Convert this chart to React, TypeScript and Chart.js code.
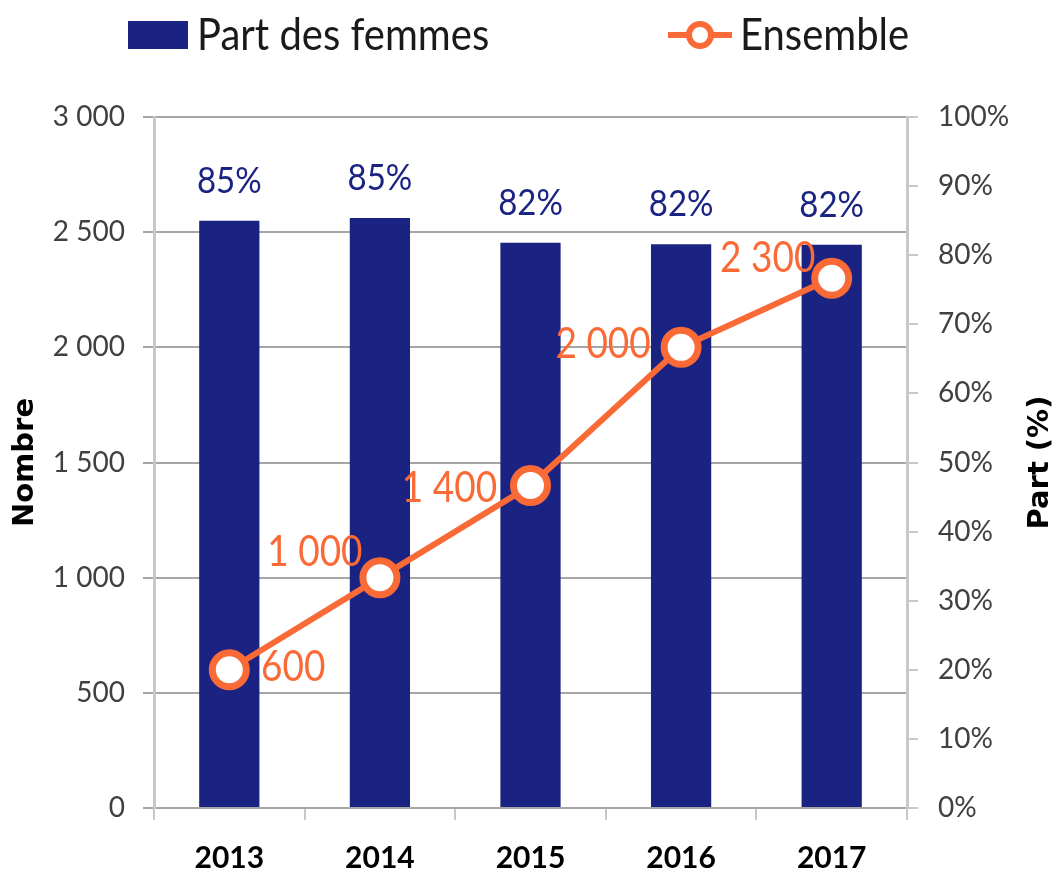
import React, { useEffect, useRef } from "react";
import { Chart, registerables } from "chart.js";

Chart.register(...registerables);

const YEARS = ["2013", "2014", "2015", "2016", "2017"];
const PART_FEMMES = [85.0, 85.4, 81.8, 81.6, 81.5];
const ENSEMBLE = [600, 1000, 1400, 2000, 2300];
const LEFT_MIN = 0;
const LEFT_MAX = 3000;
const LEFT_STEP = 500;
const RIGHT_MIN = 0;
const RIGHT_MAX = 100;
const RIGHT_STEP = 10;

const LEGEND_BAR = "Part des femmes";
const LEGEND_LINE = "Ensemble";
const TITLE_LEFT = "Nombre";
const TITLE_RIGHT = "Part (%)";

// label placement offsets (style, not data)
const LINE_LABEL_OFFSETS: [number, number][] = [
  [64, -2],
  [-65, -25],
  [-81, 3],
  [-78, -3],
  [-64, -20],
];

const NAVY = "#1a2382";
const ORANGE = "#fa6a36";
const TICK_COLOR = "#404040";
const GRID = "#a6a6a6";
const AXIS = "#c8c8c8";
const STRETCH = 1.13;

const fmt = (v: number) =>
  Math.round(v)
    .toString()
    .replace(/\B(?=(\d{3})+(?!\d))/g, "\u00a0");

function stretchedText(ctx: any, text: string, x: number, y: number) {
  ctx.save();
  ctx.translate(x, y);
  ctx.scale(1, STRETCH);
  ctx.fillText(text, 0, 0);
  ctx.restore();
}

const overlay = {
  id: "overlay",
  afterDatasetDraw(chart: any, args: any) {
    if (args.index !== 1) return;
    const ctx = chart.ctx;
    ctx.save();
    ctx.textAlign = "center";
    ctx.textBaseline = "middle";
    const barMeta = chart.getDatasetMeta(1);
    ctx.font = "33px Lato";
    ctx.fillStyle = NAVY;
    barMeta.data.forEach((el: any, i: number) => {
      stretchedText(ctx, Math.round(PART_FEMMES[i]) + "%", el.x, el.y - 40);
    });
    const lineMeta = chart.getDatasetMeta(0);
    ctx.font = "37px Lato";
    ctx.fillStyle = ORANGE;
    lineMeta.data.forEach((el: any, i: number) => {
      const [dx, dy] = LINE_LABEL_OFFSETS[i];
      stretchedText(ctx, fmt(ENSEMBLE[i]), el.x + dx, el.y + dy);
    });
    ctx.restore();
  },
  afterDraw(chart: any) {
    const ctx = chart.ctx;
    const area = chart.chartArea;
    ctx.save();
    // axis titles
    const cy = (area.top + area.bottom) / 2;
    ctx.font = "bold 29px 'DejaVu Sans'";
    ctx.fillStyle = "#000";
    ctx.textAlign = "center";
    ctx.textBaseline = "middle";
    ctx.save();
    ctx.translate(25, cy);
    ctx.rotate(-Math.PI / 2);
    ctx.fillText(TITLE_LEFT, 0, 0);
    ctx.restore();
    ctx.save();
    ctx.translate(1040, cy);
    ctx.rotate(-Math.PI / 2);
    ctx.fillText(TITLE_RIGHT, 0, 0);
    ctx.restore();

    // legend
    ctx.fillStyle = NAVY;
    ctx.fillRect(128, 21, 60, 28);
    ctx.font = "40px Lato";
    ctx.fillStyle = "#1a1a1a";
    ctx.textAlign = "left";
    ctx.textBaseline = "alphabetic";
    stretchedText(ctx, LEGEND_BAR, 197, 50);

    ctx.strokeStyle = ORANGE;
    ctx.lineWidth = 6;
    ctx.beginPath();
    ctx.moveTo(668, 35);
    ctx.lineTo(732, 35);
    ctx.stroke();
    ctx.beginPath();
    ctx.arc(700, 35, 11, 0, Math.PI * 2);
    ctx.fillStyle = "#fff";
    ctx.fill();
    ctx.stroke();
    ctx.fillStyle = "#1a1a1a";
    stretchedText(ctx, LEGEND_LINE, 740, 50);
    ctx.restore();
  },
};

export default function App() {
  const ref = useRef<HTMLCanvasElement>(null);
  useEffect(() => {
    if (!ref.current) return;
    const chart = new Chart(ref.current, {
      type: "bar",
      data: {
        labels: YEARS,
        datasets: [
          {
            type: "line",
            label: LEGEND_LINE,
            data: ENSEMBLE,
            yAxisID: "y",
            borderColor: ORANGE,
            backgroundColor: "#ffffff",
            borderWidth: 6,
            pointRadius: 17,
            pointBorderWidth: 7,
            pointBackgroundColor: "#ffffff",
            pointBorderColor: ORANGE,
            order: 0,
          } as any,
          {
            type: "bar",
            label: LEGEND_BAR,
            data: PART_FEMMES,
            yAxisID: "y1",
            backgroundColor: NAVY,
            barPercentage: 0.8,
            categoryPercentage: 0.5,
            order: 1,
          },
        ],
      },
      options: {
        responsive: false,
        animation: false,
        devicePixelRatio: 1,
        layout: { padding: { top: 117, left: 0, right: 0, bottom: 0 } },
        plugins: {
          legend: { display: false },
          tooltip: { enabled: false },
        },
        scales: {
          x: {
            offset: true,
            grid: {
              offset: true,
              drawOnChartArea: false,
              color: AXIS,
              lineWidth: 2,
              tickLength: 12,
            },
            border: { color: GRID, width: 2 },
            ticks: {
              color: "#000",
              font: { family: "Lato", size: 30, weight: "bold" },
              padding: 20,
            },
            afterFit: (s: any) => {
              s.height = 873 - 808;
            },
          },
          y: {
            position: "left",
            min: LEFT_MIN,
            max: LEFT_MAX,
            ticks: {
              stepSize: LEFT_STEP,
              color: TICK_COLOR,
              font: { family: "Lato", size: 28 },
              padding: 18,
              callback: (v: any) => fmt(Number(v)),
            },
            grid: { color: GRID, lineWidth: 2, tickLength: 11 },
            border: { color: AXIS, width: 3 },
            afterFit: (s: any) => {
              s.width = 154;
            },
          },
          y1: {
            position: "right",
            min: RIGHT_MIN,
            max: RIGHT_MAX,
            ticks: {
              stepSize: RIGHT_STEP,
              color: TICK_COLOR,
              font: { family: "Lato", size: 28 },
              padding: 20,
              callback: (v: any) => v + "%",
            },
            grid: {
              drawOnChartArea: false,
              color: AXIS,
              lineWidth: 2,
              tickLength: 11,
            },
            border: { color: AXIS, width: 3 },
            afterFit: (s: any) => {
              s.width = 1059 - 907;
            },
          },
        },
      },
      plugins: [overlay],
    });
    return () => chart.destroy();
  }, []);
  return (
    <div style={{ position: "absolute", left: 0, top: 0, width: 1059, height: 873, background: "#fff" }}>
      <canvas ref={ref} width={1059} height={873} />
    </div>
  );
}
